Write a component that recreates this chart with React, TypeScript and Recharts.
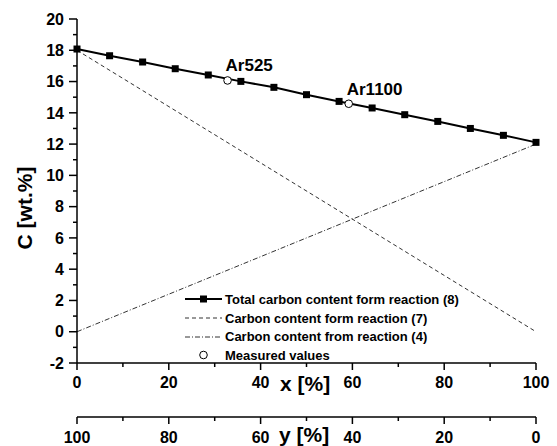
import { LineChart, Line, XAxis, YAxis, Legend, LabelList, Label } from 'recharts'

const FONT = '"Liberation Sans", Arial, Helvetica, sans-serif'

// total carbon, reaction (8)
const totalX = [0, 7.1, 14.3, 21.4, 28.6, 35.7, 42.9, 50, 57.1, 64.3, 71.4, 78.6, 85.7, 92.9, 100]
const totalC = [18.08, 17.65, 17.25, 16.82, 16.42, 16.01, 15.63, 15.16, 14.73, 14.31, 13.88, 13.45, 13.0, 12.56, 12.11]
// reaction (7)
const reaction7X = [0, 100]
const reaction7C = [18, 0]
// reaction (4)
const reaction4X = [0, 100]
const reaction4C = [0, 12]
// measured samples
const measuredNames = ['Ar525', 'Ar1100']
const measuredX = [32.8, 59.2]
const measuredC = [16.07, 14.58]

const xTicks = [0, 10, 20, 30, 40, 50, 60, 70, 80, 90, 100]
const yTicks = [-2, -1, 0, 1, 2, 3, 4, 5, 6, 7, 8, 9, 10, 11, 12, 13, 14, 15, 16, 17, 18, 19, 20]
const legendLabels = [
  'Total carbon content form reaction (8)',
  'Carbon content form reaction (7)',
  'Carbon content from reaction (4)',
  'Measured values',
]

const totalData = totalX.map((x, i) => ({ x, c: totalC[i] }))
const r7Data = reaction7X.map((x, i) => ({ x, c: reaction7C[i] }))
const r4Data = reaction4X.map((x, i) => ({ x, c: reaction4C[i] }))
const measuredData = measuredX.map((x, i) => ({ x, c: measuredC[i], name: measuredNames[i] }))

const textStyle = { fontFamily: FONT, fontWeight: 'bold' as const, fill: '#000' }

function XTick(props: any) {
  const { x, y, payload } = props
  const v = payload.value
  const major = v % 20 === 0
  return (
    <g>
      <line x1={x} x2={x} y1={y} y2={y + (major ? 7 : 4)} stroke="#000" strokeWidth={1.5} />
      {major && (
        <text x={x} y={y + 25} textAnchor="middle" fontSize={16} {...textStyle}>
          {v}
        </text>
      )}
    </g>
  )
}

function Y2Tick(props: any) {
  const { x, y, payload } = props
  const v = payload.value
  const major = v % 20 === 0
  return (
    <g>
      <line x1={x} x2={x} y1={y} y2={y + (major ? 7 : 4)} stroke="#000" strokeWidth={1.5} />
      {major && (
        <text x={x} y={y + 26} textAnchor="middle" fontSize={16} {...textStyle}>
          {v}
        </text>
      )}
    </g>
  )
}

function YTick(props: any) {
  const { x, y, payload } = props
  const v = payload.value
  const major = v % 2 === 0
  return (
    <g>
      <line x1={x - (major ? 8 : 4)} x2={x} y1={y} y2={y} stroke="#000" strokeWidth={1.5} />
      {major && (
        <text x={x - 13} y={y} dy="0.36em" textAnchor="end" fontSize={16} {...textStyle}>
          {v}
        </text>
      )}
    </g>
  )
}

function SquareDot(props: any) {
  const { cx, cy } = props
  return <rect x={cx - 3.5} y={cy - 3.5} width={7} height={7} fill="#000" />
}

function OpenDot(props: any) {
  const { cx, cy } = props
  return <circle cx={cx} cy={cy} r={3.8} fill="#fff" stroke="#000" strokeWidth={1} />
}

function SampleLabel(props: any) {
  const { x, y, value } = props
  return (
    <text x={x - 2} y={y - 9} fontSize={17} {...textStyle}>
      {value}
    </text>
  )
}

function legendIcon(i: number) {
  if (i === 0)
    return (
      <g>
        <line x1={0} x2={37} y1={6} y2={6} stroke="#000" strokeWidth={2} />
        <rect x={15} y={2.5} width={7} height={7} fill="#000" />
      </g>
    )
  if (i === 1) return <line x1={0} x2={37} y1={6} y2={6} stroke="#333" strokeWidth={1} strokeDasharray="4 3" />
  if (i === 2) return <line x1={0} x2={37} y1={6} y2={6} stroke="#333" strokeWidth={1} strokeDasharray="5 2 1 2" />
  return <circle cx={18.5} cy={6} r={3.8} fill="#fff" stroke="#000" strokeWidth={1} />
}

function LegendBox() {
  return (
    <div style={{ fontFamily: FONT, fontWeight: 'bold', fontSize: 13, color: '#000' }}>
      {legendLabels.map((label, i) => (
        <div key={label} style={{ display: 'flex', alignItems: 'center', height: 18.7 }}>
          <svg width={37} height={12} style={{ marginRight: 3 }}>
            {legendIcon(i)}
          </svg>
          <span>{label}</span>
        </div>
      ))}
    </div>
  )
}

export default function App() {
  return (
    <div style={{ position: 'absolute', left: 0, top: 0, width: 557, height: 446, background: '#fff' }}>
      <LineChart width={557} height={446} margin={{ top: 19, right: 21, left: 0, bottom: 0 }}>
        <XAxis
          dataKey="x"
          type="number"
          domain={[0, 100]}
          ticks={xTicks}
          interval={0}
          height={54}
          tickSize={0}
          tickMargin={0}
          tickLine={false}
          tick={<XTick />}
          axisLine={{ stroke: '#000', strokeWidth: 1.5 }}
        >
          <Label
            content={() => (
              <text x={280} y={391} fontSize={21} {...textStyle}>
                x [%]
              </text>
            )}
          />
        </XAxis>
        <XAxis
          xAxisId="y"
          dataKey="x"
          type="number"
          domain={[0, 100]}
          reversed
          ticks={xTicks}
          interval={0}
          height={29}
          tickSize={0}
          tickMargin={0}
          tickLine={false}
          tick={<Y2Tick />}
          axisLine={{ stroke: '#000', strokeWidth: 1.5 }}
        >
          <Label
            content={() => (
              <text x={279} y={442} fontSize={21} {...textStyle}>
                y [%]
              </text>
            )}
          />
        </XAxis>
        <YAxis
          type="number"
          domain={[-2, 20]}
          ticks={yTicks}
          interval={0}
          width={77}
          tickSize={0}
          tickMargin={0}
          tickLine={false}
          tick={<YTick />}
          axisLine={{ stroke: '#000', strokeWidth: 1.5 }}
        >
          <Label
            content={() => (
              <text x={32} y={208} fontSize={21} textAnchor="middle" transform="rotate(-90 32 208)" {...textStyle}>
                C [wt.%]
              </text>
            )}
          />
        </YAxis>
        {/* carries the y [%] axis, draws nothing */}
        <Line
          xAxisId="y"
          data={r4Data}
          dataKey="c"
          stroke="none"
          dot={false}
          activeDot={false}
          legendType="none"
          isAnimationActive={false}
        />
        <Line
          data={r7Data}
          dataKey="c"
          type="linear"
          stroke="#333"
          strokeWidth={1}
          strokeDasharray="4 3"
          dot={false}
          isAnimationActive={false}
        />
        <Line
          data={r4Data}
          dataKey="c"
          type="linear"
          stroke="#333"
          strokeWidth={1}
          strokeDasharray="5 2 1 2"
          dot={false}
          isAnimationActive={false}
        />
        <Line
          data={totalData}
          dataKey="c"
          type="linear"
          stroke="#000"
          strokeWidth={2}
          dot={<SquareDot />}
          isAnimationActive={false}
        />
        <Line
          data={measuredData}
          dataKey="c"
          type="linear"
          stroke="none"
          dot={<OpenDot />}
          isAnimationActive={false}
        >
          <LabelList dataKey="name" content={<SampleLabel />} />
        </Line>
        <Legend
          layout="vertical"
          align="center"
          verticalAlign="middle"
          content={<LegendBox />}
          wrapperStyle={{ left: 185, top: 290, width: 320 }}
        />
      </LineChart>
    </div>
  )
}
